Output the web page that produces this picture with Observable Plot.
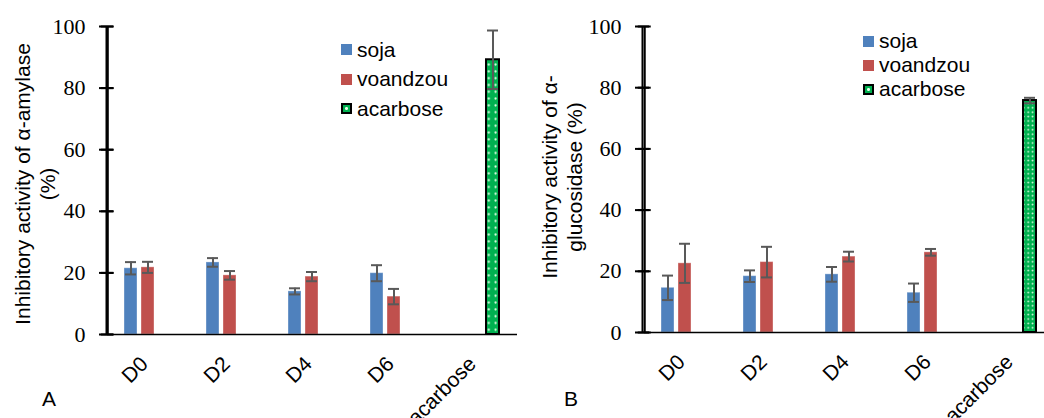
<!DOCTYPE html>
<html>
<head>
<meta charset="utf-8">
<script src="https://cdn.jsdelivr.net/npm/d3@7"></script>
<script src="https://cdn.jsdelivr.net/npm/@observablehq/plot@0.6"></script>
<style>
  html, body { margin: 0; padding: 0; background: #fff; }
  #root { position: relative; width: 1044px; height: 418px; overflow: hidden; background: #fff; font-family: "Liberation Sans", Arial, sans-serif; color: #000; }
  .panel { position: absolute; top: 0; }
  .panel svg { max-width: none !important; }
  .ylab { position: absolute; font-size: 21px; line-height: 25px; text-align: center; white-space: nowrap; transform: translate(-50%, -50%) rotate(-90deg); }
  .letter { position: absolute; font-size: 21px; line-height: 21px; }
  .legend { position: absolute; font-size: 21px; }
  .legend .row { display: flex; align-items: center; white-space: nowrap; }
  .legend .sw { width: 11px; height: 11px; margin-right: 5px; box-sizing: border-box; }
</style>
</head>
<body>
<div id="root"></div>
<script>
// ---- data ----
const categories = ["D0", "D2", "D4", "D6", "acarbose"];
const seriesNames = ["soja", "voandzou", "acarbose"];
const sampleDays = ["D0", "D2", "D4", "D6"];

// A: alpha-amylase inhibition (%)
const amylaseSoja = [21.5, 23.4, 14.0, 19.9];
const amylaseSojaErr = [2.0, 1.4, 1.0, 2.6];
const amylaseVoandzou = [21.8, 19.2, 18.8, 12.3];
const amylaseVoandzouErr = [1.8, 1.4, 1.5, 2.5];
const amylaseAcarbose = 89.2;
const amylaseAcarboseErr = 9.5;

// B: alpha-glucosidase inhibition (%)
const glucoSoja = [14.6, 18.4, 19.0, 13.0];
const glucoSojaErr = [4.0, 1.9, 2.4, 3.0];
const glucoVoandzou = [22.6, 23.0, 24.8, 26.2];
const glucoVoandzouErr = [6.4, 5.0, 1.6, 1.1];
const glucoAcarbose = 75.8;
const glucoAcarboseErr = 0.9;

const yTicks = [0, 20, 40, 60, 80, 100];
const colors = { soja: "#4F81BD", voandzou: "#C0504D", acarbose: "#00B050" };

const PAD_INNER = 0.222, PAD_OUTER = 0.9;

function buildRows(soja, sojaErr, voa, voaErr, aca, acaErr) {
  const rows = [];
  sampleDays.forEach((c, i) => {
    rows.push({ cat: c, series: "soja", value: soja[i], err: sojaErr[i] });
    rows.push({ cat: c, series: "voandzou", value: voa[i], err: voaErr[i] });
  });
  rows.push({ cat: "acarbose", series: "acarbose", value: aca, err: acaErr });
  return rows;
}

function makePanel(rows, opts) {
  const patId = opts.patId;
  // offset from the centre of the first series band to the left edge of the first facet
  const facetW = (opts.width - opts.marginLeft - opts.marginRight) / categories.length;
  const step = facetW / (seriesNames.length - PAD_INNER + 2 * PAD_OUTER);
  const toEdge = -(step * PAD_OUTER + step * (1 - PAD_INNER) / 2);
  const axisAnchor = [{ cat: categories[0], series: seriesNames[0] }];
  const tickRows = yTicks.map(t => ({ cat: categories[0], series: seriesNames[0], t }));

  const chart = Plot.plot({
    width: opts.width,
    height: 418,
    marginLeft: opts.marginLeft,
    marginRight: opts.marginRight,
    marginTop: 26,
    marginBottom: opts.marginBottom,
    style: { background: "transparent", overflow: "visible", color: "#000", maxWidth: "none" },
    fx: { domain: categories, padding: 0 },
    x: { domain: seriesNames, paddingInner: PAD_INNER, paddingOuter: PAD_OUTER, axis: null },
    y: { domain: [0, 100], axis: null },
    color: { domain: ["soja", "voandzou"], range: [colors.soja, colors.voandzou] },
    marks: [
      Plot.barY(rows.filter(d => d.series !== "acarbose"), {
        fx: "cat", x: "series", y: "value", fill: "series",
        stroke: "#ffffff", strokeOpacity: 0.35, strokeWidth: 1
      }),
      Plot.barY(rows.filter(d => d.series === "acarbose"), {
        fx: "cat", x: "series", y: "value", fill: `url(#${patId})`,
        stroke: "#000", strokeWidth: 2
      }),
      Plot.ruleY([0], { stroke: "#000", strokeWidth: 1.5 }),
      // y axis line and crossing ticks, drawn in the first facet at its left edge
      Plot.ruleX(axisAnchor, { fx: "cat", x: "series", dx: toEdge, stroke: "#000", strokeWidth: 2 }),
      Plot.tickY(tickRows, { fx: "cat", x: "series", y: "t", dx: toEdge, stroke: "#000", strokeWidth: 2 }),
      Plot.ruleX(rows, {
        fx: "cat", x: "series", y1: d => d.value - d.err, y2: d => d.value + d.err,
        stroke: "#595959", strokeWidth: 2
      }),
      Plot.tickY(rows, {
        fx: "cat", x: "series", y: d => d.value - d.err,
        stroke: "#595959", strokeWidth: 2, insetLeft: 1, insetRight: 1
      }),
      Plot.tickY(rows, {
        fx: "cat", x: "series", y: d => d.value + d.err,
        stroke: "#595959", strokeWidth: 2, insetLeft: 1, insetRight: 1
      }),
      Plot.axisFx({
        anchor: "bottom", tickRotate: -45, tickSize: 0, tickPadding: 26, dx: -4, label: null,
        fontSize: 21, fontFamily: "Liberation Sans, Arial, sans-serif", fill: "#000"
      })
    ]
  });
  // dotted pattern for the acarbose bar
  const ns = "http://www.w3.org/2000/svg";
  const defs = document.createElementNS(ns, "defs");
  const pat = document.createElementNS(ns, "pattern");
  pat.setAttribute("id", patId);
  pat.setAttribute("patternUnits", "userSpaceOnUse");
  pat.setAttribute("width", opts.dot);
  pat.setAttribute("height", opts.dot);
  const bg = document.createElementNS(ns, "rect");
  bg.setAttribute("width", opts.dot); bg.setAttribute("height", opts.dot);
  bg.setAttribute("fill", colors.acarbose);
  const c = document.createElementNS(ns, "circle");
  c.setAttribute("cx", opts.dot / 2); c.setAttribute("cy", opts.dot / 2);
  c.setAttribute("r", opts.dotR); c.setAttribute("fill", "#e8ffe8");
  pat.appendChild(bg); pat.appendChild(c); defs.appendChild(pat);
  chart.appendChild(defs);
  return chart;
}

// y axis (line, crossing ticks, serif labels) as a small plot over the panel
function makeYAxis(opts) {
  return Plot.plot({
    width: opts.axisX + 8,
    height: 418,
    marginLeft: opts.axisX - 7,
    marginRight: 1,
    marginTop: 26,
    marginBottom: opts.marginBottom,
    style: { background: "transparent", overflow: "visible", color: "#000", maxWidth: "none" },
    x: { domain: [-1, 1], axis: null },
    y: { domain: [0, 100], axis: null },
    marks: [
      Plot.ruleX([0], { stroke: "#000", strokeWidth: 2 }),
      Plot.ruleY(yTicks, { x1: -1, x2: 1, stroke: "#000", strokeWidth: 2 }),
      Plot.text(yTicks, {
        y: d => d, text: d => String(d), frameAnchor: "left", dx: -14, textAnchor: "end",
        fontSize: 22, fontFamily: "Liberation Serif, Times New Roman, serif", fill: "#000"
      })
    ]
  });
}

const root = document.getElementById("root");

function addPanel(left, chart, w) {
  const wrap = document.createElement("div");
  wrap.className = "panel";
  wrap.style.left = left + "px";
  wrap.style.width = w + "px";
  wrap.appendChild(chart);
  root.appendChild(wrap);
}

function addYLabel(cx, cy, lines) {
  const d = document.createElement("div");
  d.className = "ylab";
  d.style.left = cx + "px";
  d.style.top = cy + "px";
  d.innerHTML = lines.join("<br>");
  root.appendChild(d);
}

function addLetter(x, y, t) {
  const d = document.createElement("div");
  d.className = "letter";
  d.style.left = x + "px"; d.style.top = y + "px";
  d.textContent = t;
  root.appendChild(d);
}

function addLegend(x, y, rowH) {
  const lg = document.createElement("div");
  lg.className = "legend";
  lg.style.left = x + "px"; lg.style.top = y + "px";
  seriesNames.forEach(s => {
    const r = document.createElement("div");
    r.className = "row";
    r.style.height = rowH + "px";
    const sw = document.createElement("div");
    sw.className = "sw";
    if (s === "acarbose") {
      sw.style.background = `radial-gradient(circle, #e8ffe8 0 1.3px, ${colors.acarbose} 1.6px)`;
      sw.style.border = "2px solid #000";
    } else {
      sw.style.background = colors[s];
    }
    const t = document.createElement("span");
    t.textContent = s;
    r.appendChild(sw); r.appendChild(t);
    lg.appendChild(r);
  });
  root.appendChild(lg);
}

const rowsA = buildRows(amylaseSoja, amylaseSojaErr, amylaseVoandzou, amylaseVoandzouErr, amylaseAcarbose, amylaseAcarboseErr);
const rowsB = buildRows(glucoSoja, glucoSojaErr, glucoVoandzou, glucoVoandzouErr, glucoAcarbose, glucoAcarboseErr);

addPanel(0, makePanel(rowsA, { width: 520, marginLeft: 106, marginRight: 2, marginBottom: 84, patId: "dotsA", dot: 6.8, dotR: 1.1 }), 520);
addPanel(520, makePanel(rowsB, { width: 536, marginLeft: 122, marginRight: 1, marginBottom: 86, patId: "dotsB", dot: 4.4, dotR: 0.9 }), 536);
addPanel(0, makeYAxis({ axisX: 106, marginBottom: 84 }), 114);
addPanel(520, makeYAxis({ axisX: 122, marginBottom: 86 }), 130);

addYLabel(35, 184, ["Inhibitory activity of α-amylase", "(%)"]);
addYLabel(562, 177, ["Inhibitory activity of α-", "glucosidase (%)"]);
addLetter(42, 388, "A");
addLetter(564, 388, "B");
addLegend(341, 35, 29.5);
addLegend(863, 29, 24);
</script>
</body>
</html>
